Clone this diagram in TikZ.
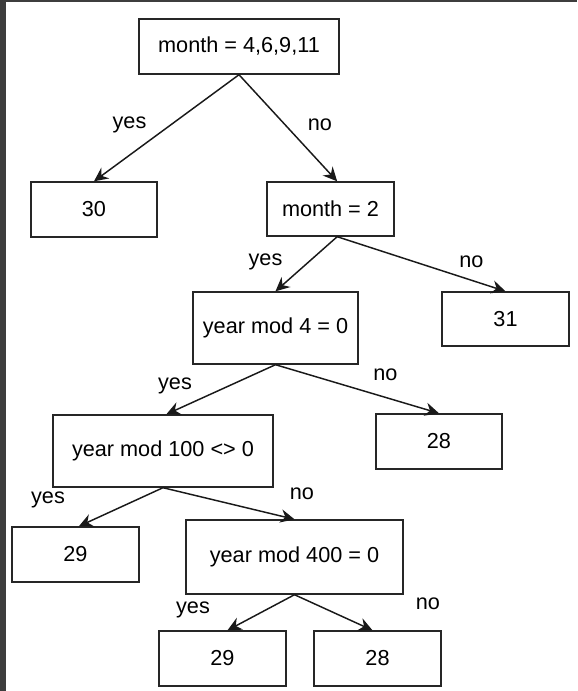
\documentclass[tikz,border=0pt]{standalone}
\usepackage{fontspec}
\setmainfont{Liberation Sans}
\usetikzlibrary{arrows.meta}

\tikzset{
  box/.style={draw=black!85, line width=1.2pt, fill=white, inner sep=0pt,
    font=\fontsize{18.5pt}{21pt}\selectfont},
  lbl/.style={inner sep=0pt, font=\fontsize{18.5pt}{21pt}\selectfont},
  edge/.style={black!90, line width=1.25pt,
    -{Stealth[length=4.2mm, width=4mm, inset=1.4mm]}}
}

\begin{document}
\begin{tikzpicture}[x=0.03cm, y=-0.03cm]

\useasboundingbox (0,0) rectangle (577,691);
\fill[white] (0,0) rectangle (577,691);

% dark frame on the left and top
\fill[black!76] (0,0) rectangle (6,691);
\fill[black!76] (0,0) rectangle (577,1.5);

\node[box, minimum width=6cm, minimum height=1.65cm] (m4) at (239,46.5) {month = 4,6,9,11};
\node[box, minimum width=3.78cm, minimum height=1.65cm] (d30) at (94,209.5) {30};
\node[box, minimum width=3.81cm, minimum height=1.62cm] (m2) at (330.5,209) {month = 2};
\node[box, minimum width=3.81cm, minimum height=1.62cm] (d31) at (505.5,319) {31};
\node[box, minimum width=4.95cm, minimum height=2.16cm] (y4) at (275.5,328) {year mod 4 = 0};
\node[box, minimum width=3.78cm, minimum height=1.65cm] (d28a) at (439,441.5) {28};
\node[box, minimum width=6.6cm, minimum height=2.16cm] (y100) at (163,451) {year mod 100 <> 0};
\node[box, minimum width=3.81cm, minimum height=1.65cm] (d29a) at (75.5,554.5) {29};
\node[box, minimum width=6.51cm, minimum height=2.22cm] (y400) at (294.5,557) {year mod 400 = 0};
\node[box, minimum width=3.81cm, minimum height=1.65cm] (d29b) at (222.5,658.5) {29};
\node[box, minimum width=3.81cm, minimum height=1.65cm] (d28b) at (377.5,658.5) {28};

\draw[edge] (m4.south) -- (d30.north);
\draw[edge] (m4.south) -- ([xshift=0.2cm]m2.north);
\draw[edge] ([xshift=0.2cm]m2.south) -- (y4.north);
\draw[edge] ([xshift=0.2cm]m2.south) -- (d31.north);
\draw[edge] (y4.south) -- ([xshift=0.1cm]y100.north);
\draw[edge] (y4.south) -- (d28a.north);
\draw[edge] (y100.south) -- ([xshift=0.1cm]d29a.north);
\draw[edge] (y100.south) -- (y400.north);
\draw[edge] (y400.south) -- ([xshift=0.15cm]d29b.north);
\draw[edge] (y400.south) -- ([xshift=-0.15cm]d28b.north);

\node[lbl] (l1) at (129.5,125) {yes};
\node[lbl] (l2) at (320,125) {no};
\node[lbl] (l3) at (265.5,262) {yes};
\node[lbl] (l4) at (471.5,262) {no};
\node[lbl] (l5) at (175,386) {yes};
\node[lbl] (l6) at (385.5,375) {no};
\node[lbl] (l7) at (48,500) {yes};
\node[lbl] (l8) at (302,494) {no};
\node[lbl] (l9) at (193,610) {yes};
\node[lbl] (l10) at (428,604) {no};

\end{tikzpicture}
\end{document}
